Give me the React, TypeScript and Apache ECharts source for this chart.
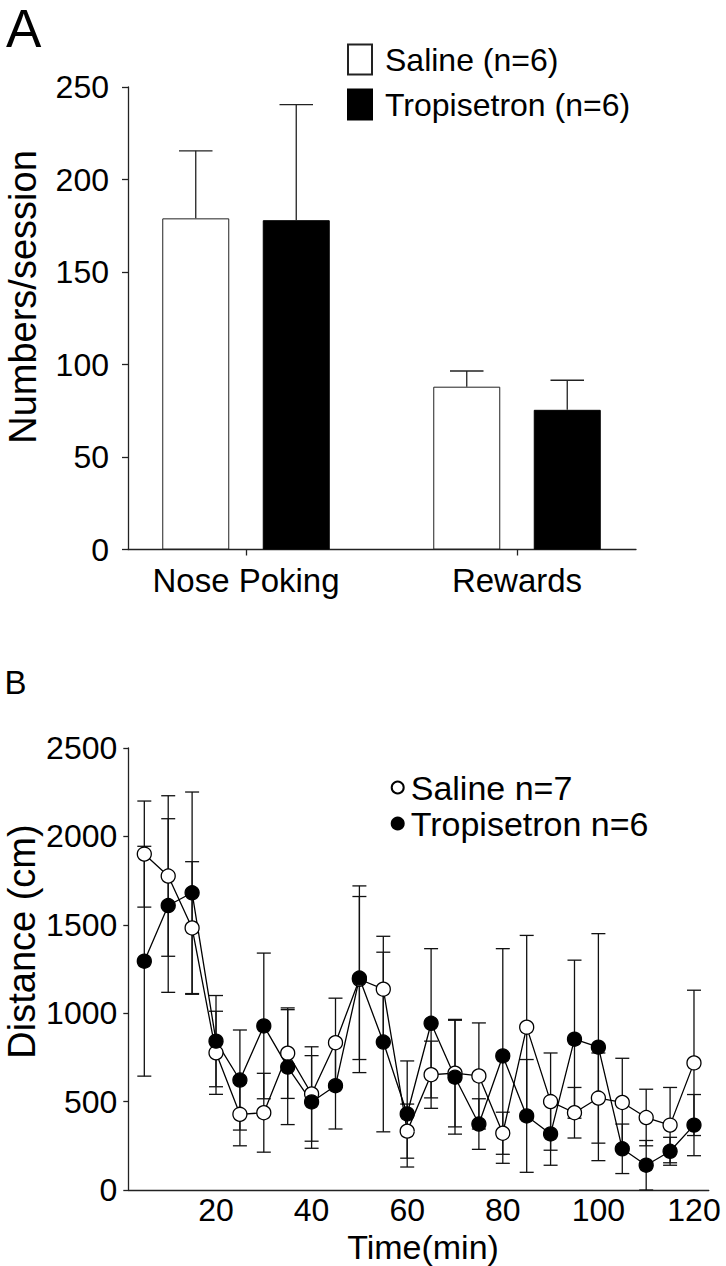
import React, { useEffect, useRef } from "react";
import * as echarts from "echarts";

// ---------- Panel A data ----------
const barCategories = ["Nose Poking", "Rewards"];
const barSalineMean = [179, 88];
const barSalineErr = [36.5, 8.5];
const barTropMean = [178, 75.5];
const barTropErr = [62.5, 16];
const barYTicks = { min: 0, max: 250, interval: 50 };

// ---------- Panel B data ----------
const times = [5, 10, 15, 20, 25, 30, 35, 40, 45, 50, 55, 60, 65, 70, 75, 80, 85, 90, 95, 100, 105, 110, 115, 120];
const salineMean = [1900, 1776, 1482, 776, 428, 437, 774, 543, 833, 1192, 1136, 333, 652, 661, 645, 321, 921, 500, 437, 520, 495, 410, 367, 719];
const salineErr = [300, 454, 375, 235, 178, 223, 256, 267, 252, 528, 299, 153, 190, 304, 300, 119, 519, 275, 143, 255, 250, 160, 213, 411];
const tropMean = [1294, 1609, 1681, 842, 622, 928, 695, 498, 590, 1199, 837, 430, 943, 638, 373, 758, 419, 317, 853, 808, 233, 140, 219, 367];
const tropErr = [650, 491, 570, 258, 283, 412, 325, 262, 245, 461, 508, 300, 422, 322, 143, 607, 319, 177, 447, 642, 140, 140, 79, 173];
const timeTickLabels = [20, 40, 60, 80, 100, 120];

const FONT = "'Liberation Sans', Arial, Helvetica, sans-serif";
const AXIS_COLOR = "#222";

export default function App() {
  const ref = useRef<HTMLDivElement>(null);

  useEffect(() => {
    if (!ref.current) return;
    const chart = echarts.init(ref.current, null, { renderer: "svg" });

    const BAR_W = 67;
    const BAR_OFFSET = 50.25;

    const barErrRender = (offset: number) => (params: any, api: any) => {
      const c = api.value(0);
      const m = api.value(1);
      const e = api.value(2);
      const p0 = api.coord([c, m]);
      const p1 = api.coord([c, m + e]);
      const x = p0[0] + offset;
      const half = BAR_W / 4;
      const style = { stroke: AXIS_COLOR, lineWidth: 1.3 };
      return {
        type: "group",
        children: [
          { type: "line", shape: { x1: x, y1: p0[1], x2: x, y2: p1[1] }, style },
          { type: "line", shape: { x1: x - half, y1: p1[1], x2: x + half, y2: p1[1] }, style },
        ],
      };
    };

    const lineErrRender = (params: any, api: any) => {
      const t = api.value(0);
      const m = api.value(1);
      const e = api.value(2);
      const pTop = api.coord([t, m + e]);
      const pBot = api.coord([t, Math.max(0, m - e)]);
      const half = 7;
      const style = { stroke: "#111", lineWidth: 1.3 };
      return {
        type: "group",
        children: [
          { type: "line", shape: { x1: pTop[0], y1: pTop[1], x2: pBot[0], y2: pBot[1] }, style },
          { type: "line", shape: { x1: pTop[0] - half, y1: pTop[1], x2: pTop[0] + half, y2: pTop[1] }, style },
          { type: "line", shape: { x1: pBot[0] - half, y1: pBot[1], x2: pBot[0] + half, y2: pBot[1] }, style },
        ],
      };
    };

    const labelStyle = { color: "#000", fontFamily: FONT, fontSize: 32 };
    const plain = (v: number) => String(v);

    const option: any = {
      animation: false,
      backgroundColor: "#fff",
      textStyle: { fontFamily: FONT, color: "#000" },
      grid: [
        { left: 128, top: 87, width: 508, height: 462.5 },
        { left: 110.5, top: 87, width: 542, height: 462.5 },
        { left: 128.3, top: 748, width: 580.5, height: 442 },
      ],
      xAxis: [
        {
          gridIndex: 0,
          type: "category",
          data: barCategories,
          axisLine: { lineStyle: { color: AXIS_COLOR, width: 1.3 } },
          axisTick: { show: false },
          axisLabel: { show: false },
          splitLine: { show: false },
        },
        {
          gridIndex: 1,
          type: "category",
          data: barCategories,
          axisLine: { show: false },
          axisTick: { show: true, alignWithLabel: true, length: 6, lineStyle: { color: AXIS_COLOR, width: 1.3 } },
          axisLabel: { ...labelStyle, fontSize: 33, margin: 14 },
          splitLine: { show: false },
        },
        {
          gridIndex: 2,
          type: "value",
          min: 1.65,
          max: 123.1,
          axisLine: { lineStyle: { color: AXIS_COLOR, width: 1.3 } },
          axisTick: { show: false },
          axisLabel: { ...labelStyle, lineHeight: 24, margin: 7.5, customValues: timeTickLabels, formatter: plain },
          splitLine: { show: false },
        },
      ],
      yAxis: [
        {
          gridIndex: 0,
          type: "value",
          min: barYTicks.min,
          max: barYTicks.max,
          interval: barYTicks.interval,
          axisLine: { show: true, lineStyle: { color: AXIS_COLOR, width: 1.3 } },
          axisTick: { show: true, length: 6, lineStyle: { color: AXIS_COLOR, width: 1.3 } },
          axisLabel: { ...labelStyle, margin: 19, formatter: plain },
          splitLine: { show: false },
        },
        {
          gridIndex: 1,
          type: "value",
          min: barYTicks.min,
          max: barYTicks.max,
          show: false,
          splitLine: { show: false },
        },
        {
          gridIndex: 2,
          type: "value",
          min: 0,
          max: 2500,
          interval: 500,
          axisLine: { show: true, lineStyle: { color: AXIS_COLOR, width: 1.3 } },
          axisTick: { show: true, length: 5, lineStyle: { color: AXIS_COLOR, width: 1.3 } },
          axisLabel: { ...labelStyle, margin: 11, formatter: plain },
          splitLine: { show: false },
        },
      ],
      legend: [
        {
          data: ["Saline (n=6)", "Tropisetron (n=6)"],
          orient: "vertical",
          left: 347,
          top: 43.5,
          padding: 0,
          icon: "rect",
          itemWidth: 24,
          itemHeight: 30,
          itemGap: 13,
          selectedMode: false,
          textStyle: { color: "#000", fontFamily: FONT, fontSize: 32, lineHeight: 32, padding: [0, 0, 0, 8] },
        },
        {
          data: ["Saline n=7", "Tropisetron n=6"],
          orient: "vertical",
          left: 390.7,
          top: 770.5,
          padding: 0,
          icon: "circle",
          itemWidth: 12,
          itemHeight: 12,
          itemGap: 2,
          selectedMode: false,
          textStyle: { color: "#000", fontFamily: FONT, fontSize: 34, lineHeight: 30, padding: [0, 0, 0, 2] },
        },
      ],
      series: [
        {
          name: "Saline (n=6)",
          type: "bar",
          xAxisIndex: 1,
          yAxisIndex: 1,
          data: barSalineMean,
          barWidth: BAR_W,
          barGap: "50%",
          itemStyle: { color: "#fff", borderColor: "#222", borderWidth: 1 },
        },
        {
          name: "Tropisetron (n=6)",
          type: "bar",
          xAxisIndex: 1,
          yAxisIndex: 1,
          data: barTropMean,
          barWidth: BAR_W,
          barGap: "50%",
          itemStyle: { color: "#000", borderColor: "#000", borderWidth: 1 },
        },
        {
          name: "errSalineA",
          type: "custom",
          xAxisIndex: 1,
          yAxisIndex: 1,
          renderItem: barErrRender(-BAR_OFFSET),
          data: barSalineMean.map((m, i) => [i, m, barSalineErr[i]]),
          z: 5,
          silent: true,
        },
        {
          name: "errTropA",
          type: "custom",
          xAxisIndex: 1,
          yAxisIndex: 1,
          renderItem: barErrRender(BAR_OFFSET),
          data: barTropMean.map((m, i) => [i, m, barTropErr[i]]),
          z: 5,
          silent: true,
        },
        {
          name: "errSalineB",
          type: "custom",
          xAxisIndex: 2,
          yAxisIndex: 2,
          renderItem: lineErrRender,
          data: times.map((t, i) => [t, salineMean[i], salineErr[i]]),
          z: 1,
          silent: true,
        },
        {
          name: "errTropB",
          type: "custom",
          xAxisIndex: 2,
          yAxisIndex: 2,
          renderItem: lineErrRender,
          data: times.map((t, i) => [t, tropMean[i], tropErr[i]]),
          z: 1,
          silent: true,
        },
        {
          name: "Saline n=7",
          type: "line",
          xAxisIndex: 2,
          yAxisIndex: 2,
          data: times.map((t, i) => [t, salineMean[i]]),
          symbol: "circle",
          symbolSize: 14,
          showAllSymbol: true,
          lineStyle: { color: "#000", width: 1.3 },
          itemStyle: { color: "#fff", borderColor: "#000", borderWidth: 1.3 },
          z: 3,
        },
        {
          name: "Tropisetron n=6",
          type: "line",
          xAxisIndex: 2,
          yAxisIndex: 2,
          data: times.map((t, i) => [t, tropMean[i]]),
          symbol: "circle",
          symbolSize: 14,
          showAllSymbol: true,
          lineStyle: { color: "#000", width: 1.3 },
          itemStyle: { color: "#000", borderColor: "#000", borderWidth: 1.3 },
          z: 3,
        },
      ],
      graphic: [
        {
          type: "text",
          x: 6,
          y: 2,
          style: { text: "A", fontSize: 53, fontFamily: FONT, fill: "#000", align: "left", verticalAlign: "top" },
        },
        {
          type: "text",
          x: 4.5,
          y: 665.7,
          style: { text: "B", fontSize: 33, fontFamily: FONT, fill: "#000", align: "left", verticalAlign: "top" },
        },
        {
          type: "text",
          x: 22.5,
          y: 297,
          rotation: Math.PI / 2,
          style: { text: "Numbers/session", fontSize: 38, fontFamily: FONT, fill: "#000", align: "center", verticalAlign: "middle" },
        },
        {
          type: "text",
          x: 21.5,
          y: 941.5,
          rotation: Math.PI / 2,
          style: { text: "Distance (cm)", fontSize: 38, fontFamily: FONT, fill: "#000", align: "center", verticalAlign: "middle" },
        },
        {
          type: "text",
          x: 423,
          y: 1232.8,
          style: { text: "Time(min)", fontSize: 34, lineHeight: 28, fontFamily: FONT, fill: "#000", align: "center", verticalAlign: "top" },
        },
      ],
    };

    chart.setOption(option);
    return () => chart.dispose();
  }, []);

  return (
    <div
      ref={ref}
      style={{ position: "fixed", left: 0, top: 0, width: 726, height: 1266, background: "#fff" }}
    />
  );
}
